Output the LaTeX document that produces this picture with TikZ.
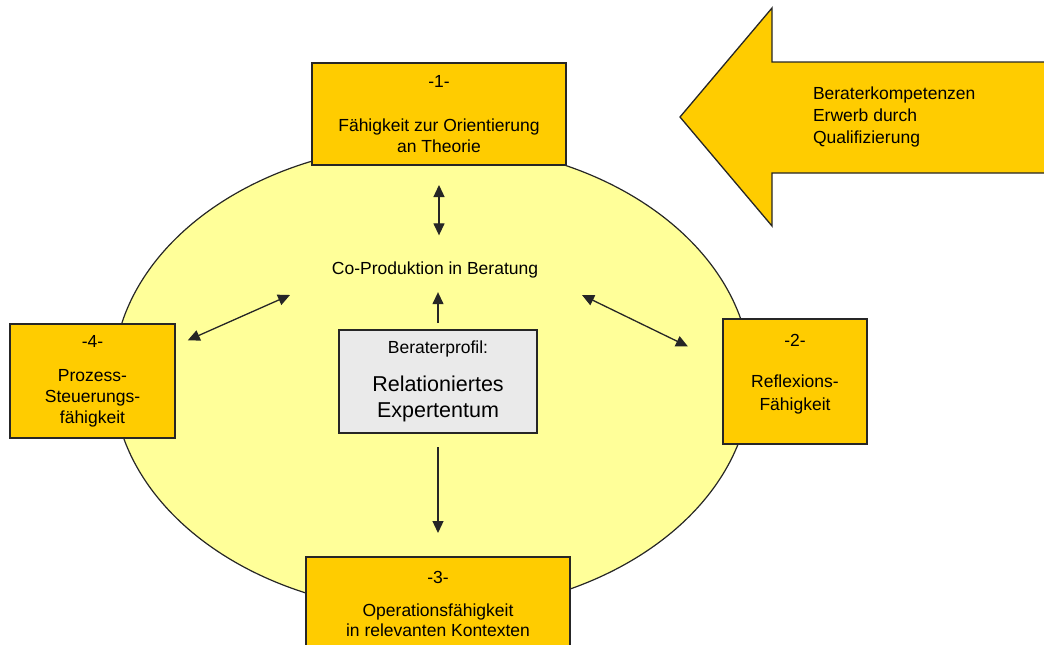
\documentclass[tikz,border=0pt]{standalone}
\usepackage{fontspec}
\setmainfont{Liberation Sans}
\usetikzlibrary{arrows.meta}

\definecolor{boxgold}{RGB}{255,204,0}
\definecolor{fieldyellow}{RGB}{255,255,153}
\definecolor{profilegray}{RGB}{234,234,234}

\begin{document}
\begin{tikzpicture}[x=1pt,y=-1pt,
  every node/.style={inner sep=0pt, outer sep=0pt},
  smalltext/.style={font=\fontsize{17.5}{21}\selectfont},
  goldbox/.style={draw=black!85, line width=1.3pt, fill=boxgold, rectangle,
    align=center, smalltext},
  dbl/.style={{Triangle[length=12pt,width=11pt]}-{Triangle[length=12pt,width=11pt]},
    line width=1.3pt, black!85},
  single/.style={-{Triangle[length=12pt,width=11pt]}, line width=1.3pt, black!85}]

  % page frame
  \useasboundingbox (0,0) rectangle (1044,645);
  \clip (0,0) rectangle (1044,645);

  % consulting field
  \draw[fill=fieldyellow, draw=black!85, line width=1.2pt]
    (432,378) ellipse [x radius=319pt, y radius=234pt];

  % the four competence boxes
  \node[goldbox, minimum width=254pt, minimum height=102pt] (t1) at (439,114)
    {-1-\\[23pt]Fähigkeit zur Orientierung\\an Theorie};
  \node[goldbox, minimum width=144pt, minimum height=125pt] (r2) at (795,381.5)
    {-2-\\[20pt]Reflexions-\\[2pt]Fähigkeit\\[-2pt]\mbox{}};
  \node[goldbox, minimum width=264pt, minimum height=93pt] (b3) at (438,603.5)
    {-3-\\[12pt]Operationsfähigkeit\\[-1pt]in relevanten Kontexten};
  \node[goldbox, minimum width=165pt, minimum height=114pt] (l4) at (92.5,381)
    {-4-\\[13pt]Prozess-\\Steuerungs-\\fähigkeit};

  % profile in the centre
  \node[draw=black!85, line width=1.3pt, fill=profilegray, rectangle,
    minimum width=198pt, minimum height=103pt, align=center,
    font=\fontsize{21.5}{26}\selectfont] (cb) at (438,381.5)
    {{\fontsize{17.5}{21}\selectfont Beraterprofil:}\\[12.4pt]Relationiertes\\Expertentum};

  % co-production label
  \node[smalltext] (co) at (435,270) {Co-Produktion in Beratung};

  % diagonal arrow ends near the label
  \coordinate (coL) at (290,295);
  \coordinate (coR) at (582,295);

  % connectors
  \draw[dbl, shorten <=20pt, shorten >=26.5pt] (t1.south) -- (t1.south |- co.north);
  \draw[single, shorten <=7pt, shorten >=14pt] (cb.north) -- (cb.north |- co.south);
  \draw[single, shorten <=14pt, shorten >=24pt] (cb.south) -- (b3.north);
  \draw[dbl, shorten <=14pt] (l4.23.6) -- (coL);
  \draw[dbl, shorten >=39pt] (coR) -- (r2.166.3);

  % qualification arrow
  \draw[fill=boxgold, draw=black!85, line width=1.3pt]
    (680,117) -- (772,8) -- (772,62) -- (1052,62) -- (1052,173)
    -- (772,173) -- (772,226) -- cycle;
  \node[anchor=west, align=left, font=\fontsize{17.5}{22}\selectfont] (quali)
    at (813,116.75) {Beraterkompetenzen\\Erwerb durch\\Qualifizierung};
\end{tikzpicture}
\end{document}
